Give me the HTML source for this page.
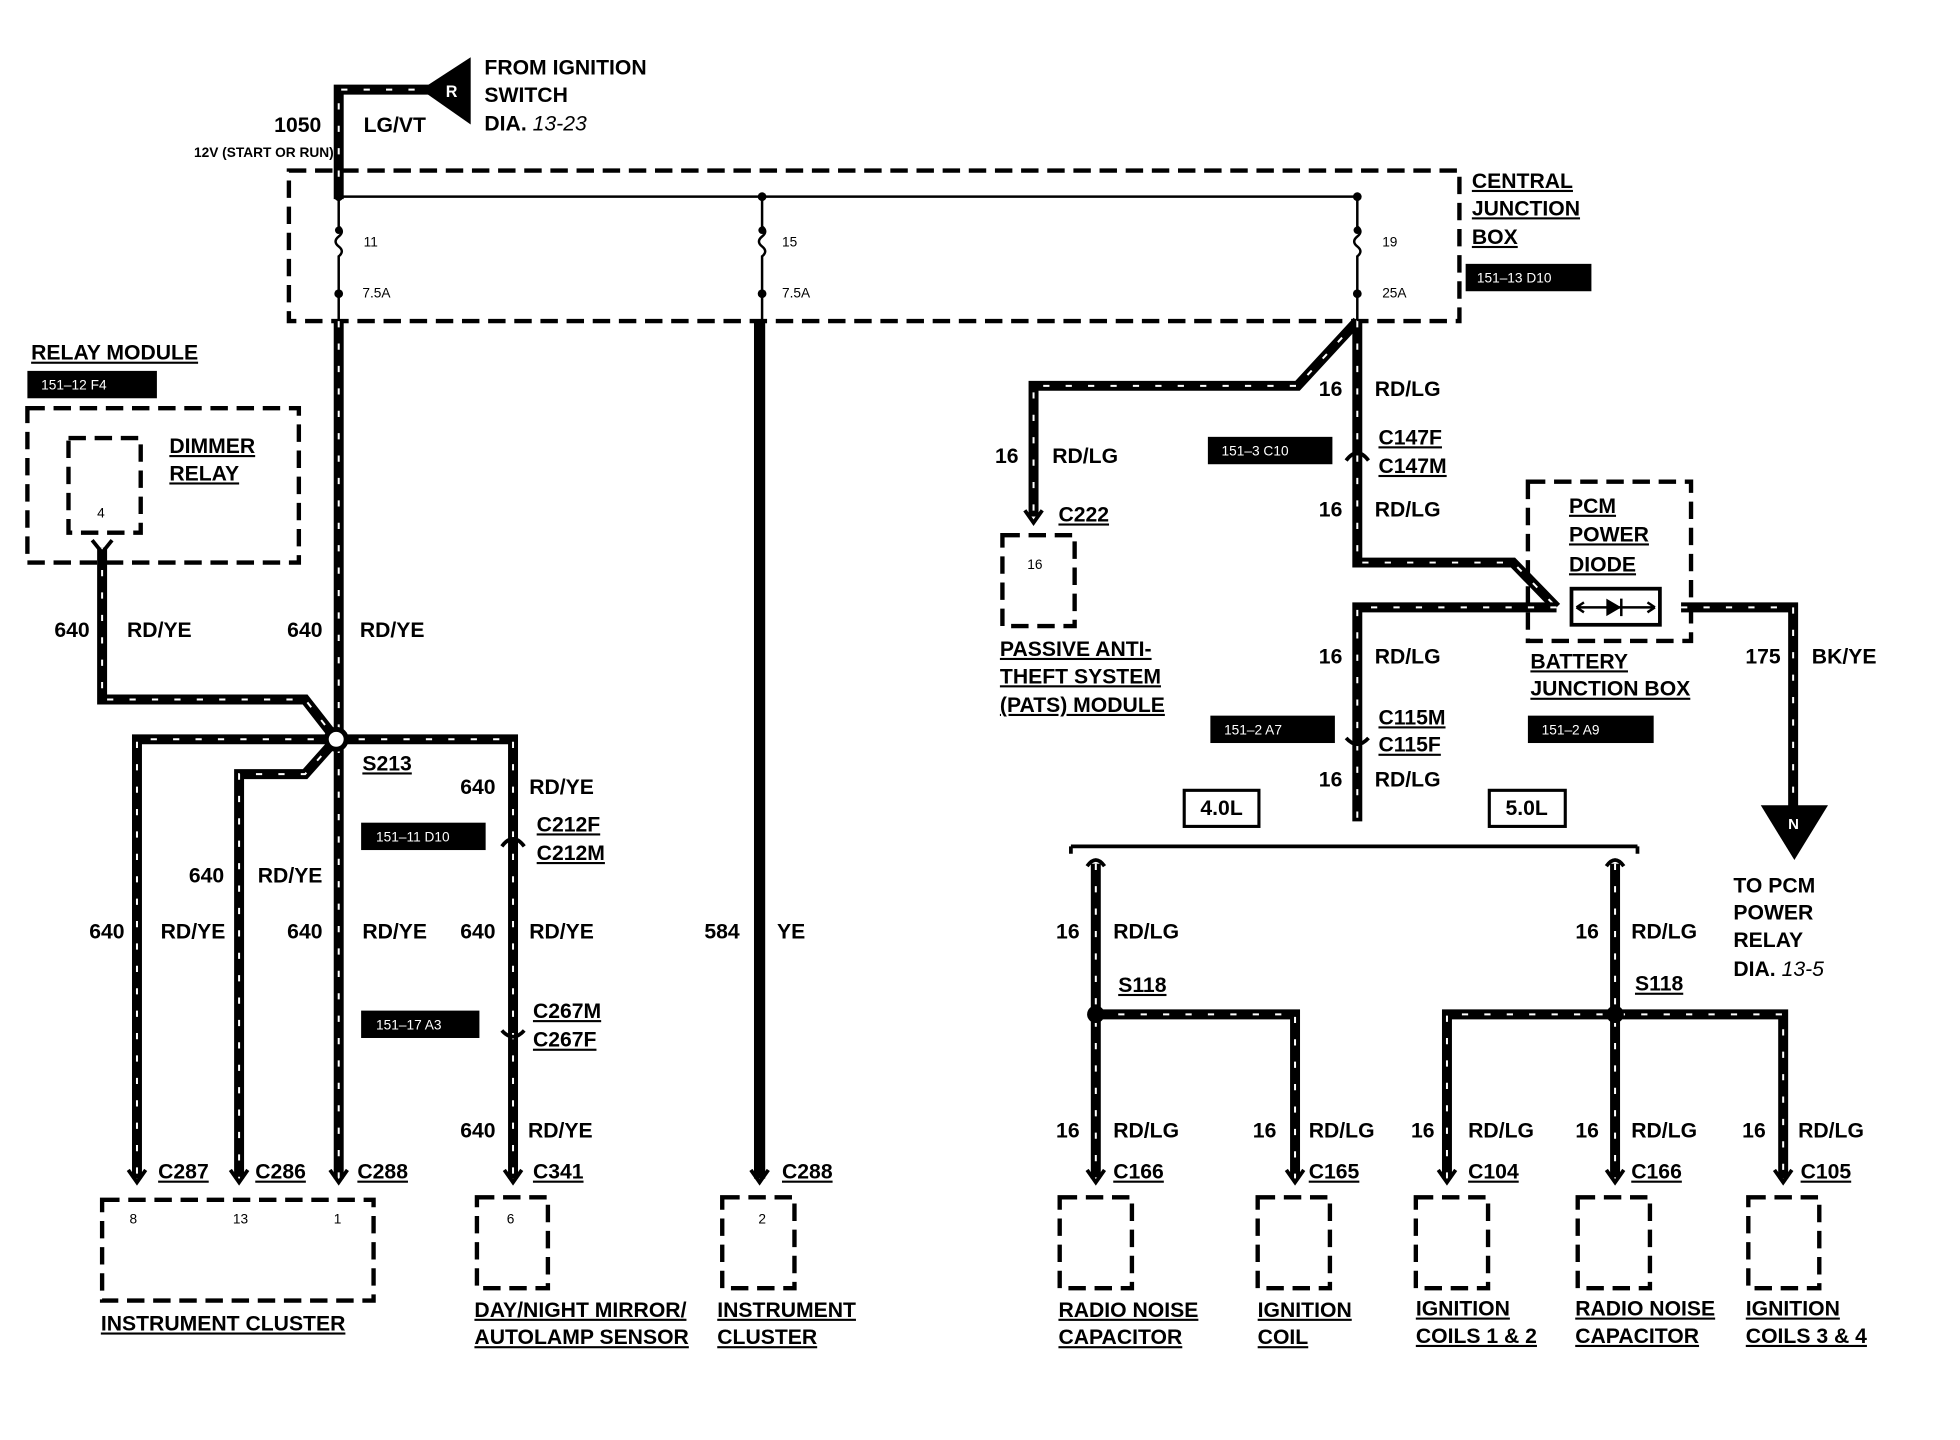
<!DOCTYPE html>
<html><head><meta charset="utf-8">
<style>
html,body{margin:0;padding:0;background:#fff;}
svg{display:block;}
text{font-family:"Liberation Sans",sans-serif;font-weight:bold;font-size:17px;fill:#000;}
.s{font-size:11px;font-weight:normal;}
.u{text-decoration:underline;}
.w{fill:none;stroke:#000;stroke-width:8;stroke-linejoin:miter;}
.wd{fill:none;stroke:#fff;stroke-width:1.6;stroke-dasharray:5 13;}
.db{fill:none;stroke:#000;stroke-width:3.5;stroke-dasharray:14 7;}
.t{fill:none;stroke:#000;stroke-width:2;}
.lbl{fill:#000;}
.lt{fill:#fff;font-size:11px;font-weight:normal;}
</style></head><body>
<svg width="1960" height="1440" viewBox="0 0 1574 1157" preserveAspectRatio="none" xmlns="http://www.w3.org/2000/svg">
<rect width="1574" height="1157" fill="#fff"/>

<!-- top feed -->
<path class="w" d="M272 160 V72 H345"/><path class="wd" d="M272 160 V72 H345"/>
<polygon points="338,72 378,46 378,100" fill="#000"/>
<text x="358" y="78" style="fill:#fff;font-size:13px">R</text>
<text x="389" y="60">FROM IGNITION</text>
<text x="389" y="82">SWITCH</text>
<text x="389" y="105">DIA. <tspan style="font-style:italic;font-weight:normal">13-23</tspan></text>
<text x="258" y="106" text-anchor="end">1050</text>
<text x="292" y="106">LG/VT</text>
<text x="268" y="126" text-anchor="end" style="font-size:11px">12V (START OR RUN)</text>

<!-- central junction box -->
<rect class="db" x="232" y="137" width="940" height="121"/>
<path class="t" d="M272 158 H1090"/>
<circle cx="272" cy="158" r="3.5"/><circle cx="612" cy="158" r="3.5"/><circle cx="1090" cy="158" r="3.5"/>
<g class="t">
<path d="M272 158 V182 q5 4 0 8 q-5 4 0 8 q5 4 0 8 V236"/>
<path d="M612 158 V182 q5 4 0 8 q-5 4 0 8 q5 4 0 8 V236"/>
<path d="M1090 158 V182 q5 4 0 8 q-5 4 0 8 q5 4 0 8 V236"/>
</g>
<circle cx="272" cy="185" r="3"/><circle cx="612" cy="185" r="3"/><circle cx="1090" cy="185" r="3"/>
<circle cx="272" cy="236" r="3.5"/><circle cx="612" cy="236" r="3.5"/><circle cx="1090" cy="236" r="3.5"/>
<path class="t" d="M272 236V258 M612 236V258 M1090 236V258"/>
<text class="s" x="292" y="198">11</text><text class="s" x="291" y="239">7.5A</text>
<text class="s" x="628" y="198">15</text><text class="s" x="628" y="239">7.5A</text>
<text class="s" x="1110" y="198">19</text><text class="s" x="1110" y="239">25A</text>
<text class="u" x="1182" y="151">CENTRAL</text>
<text class="u" x="1182" y="173">JUNCTION</text>
<text class="u" x="1182" y="196">BOX</text>
<rect class="lbl" x="1177" y="212" width="101" height="22"/><text class="lt" x="1186" y="227">151–13  D10</text>

<!-- relay module -->
<text class="u" x="25" y="289">RELAY MODULE</text>
<rect class="lbl" x="22" y="298" width="104" height="22"/><text class="lt" x="33" y="313">151–12 F4</text>
<rect class="db" x="22" y="328" width="218" height="124"/>
<rect class="db" x="55" y="352" width="58" height="76"/>
<text class="s" x="78" y="416">4</text>
<text class="u" x="136" y="364">DIMMER</text>
<text class="u" x="136" y="386">RELAY</text>

<!-- left wires -->
<g>
<path class="w" d="M272 258 V947"/><path class="wd" d="M272 258 V947"/>
<path class="w" d="M82 440 V562 H245 L270 594"/><path class="wd" d="M82 440 V562 H245 L270 594"/>
<path class="w" d="M270 594 H110 V947"/><path class="wd" d="M270 594 H110 V947"/>
<path class="w" d="M270 594 L245 622 H192 V947"/><path class="wd" d="M270 594 L245 622 H192 V947"/>
<path class="w" d="M270 594 H412 V947"/><path class="wd" d="M270 594 H412 V947"/>
<path class="w" d="M610 258 V947" style="stroke-width:9"/>
</g>
<circle cx="270" cy="594" r="8" fill="#fff" stroke="#000" stroke-width="4"/>
<path class="t" d="M74 434 L82 444 L90 434" style="stroke-width:3"/>
<text x="72" y="512" text-anchor="end">640</text><text x="102" y="512">RD/YE</text>
<text x="259" y="512" text-anchor="end">640</text><text x="289" y="512">RD/YE</text>
<text class="u" x="291" y="619">S213</text>
<text x="398" y="638" text-anchor="end">640</text><text x="425" y="638">RD/YE</text>
<rect class="lbl" x="290" y="661" width="100" height="22"/><text class="lt" x="302" y="676">151–11  D10</text>
<text class="u" x="431" y="668">C212F</text><text class="u" x="431" y="691">C212M</text>
<path d="M403 680 q9 -12 18 0" fill="none" stroke="#000" stroke-width="3"/>
<text x="180" y="709" text-anchor="end">640</text><text x="207" y="709">RD/YE</text>
<text x="100" y="754" text-anchor="end">640</text><text x="129" y="754">RD/YE</text>
<text x="259" y="754" text-anchor="end">640</text><text x="291" y="754">RD/YE</text>
<text x="398" y="754" text-anchor="end">640</text><text x="425" y="754">RD/YE</text>
<text x="594" y="754" text-anchor="end">584</text><text x="624" y="754">YE</text>
<rect class="lbl" x="290" y="812" width="95" height="22"/><text class="lt" x="302" y="827">151–17 A3</text>
<text class="u" x="428" y="818">C267M</text><text class="u" x="428" y="841">C267F</text>
<path d="M403 828 q9 10 18 0" fill="none" stroke="#000" stroke-width="3"/>
<text x="398" y="914" text-anchor="end">640</text><text x="424" y="914">RD/YE</text>
<g stroke="#000" stroke-width="3" fill="none">
<path d="M103 940 L110 950 L117 940"/><path d="M185 940 L192 950 L199 940"/><path d="M265 940 L272 950 L279 940"/><path d="M405 940 L412 950 L419 940"/><path d="M603 940 L610 950 L617 940"/>
</g>
<text class="u" x="127" y="947">C287</text><text class="u" x="205" y="947">C286</text><text class="u" x="287" y="947">C288</text>
<text class="u" x="428" y="947">C341</text><text class="u" x="628" y="947">C288</text>
<rect class="db" x="82" y="964" width="218" height="81"/>
<text class="s" x="104" y="983">8</text><text class="s" x="187" y="983">13</text><text class="s" x="268" y="983">1</text>
<text class="u" x="81" y="1069">INSTRUMENT CLUSTER</text>
<rect class="db" x="383" y="962" width="57" height="73"/><text class="s" x="407" y="983">6</text>
<text class="u" x="381" y="1058">DAY/NIGHT MIRROR/</text><text class="u" x="381" y="1080">AUTOLAMP SENSOR</text>
<rect class="db" x="580" y="962" width="58" height="73"/><text class="s" x="609" y="983">2</text>
<text class="u" x="576" y="1058">INSTRUMENT</text><text class="u" x="576" y="1080">CLUSTER</text>

<!-- right side -->
<path class="w" d="M1090 258 L1042 310 H830 V415"/><path class="wd" d="M1090 258 L1042 310 H830 V415"/>
<path class="w" d="M1090 258 V452 H1215 L1250 488"/><path class="wd" d="M1090 258 V452 H1215 L1250 488"/>
<path class="w" d="M1250 488 H1090 V660"/><path class="wd" d="M1250 488 H1090 V660"/>
<path class="w" d="M1350 488 H1440 V650"/><path class="wd" d="M1350 488 H1440 V650"/>
<polygon points="1414,647 1468,647 1441,691" fill="#000"/>
<text x="1436" y="666" style="fill:#fff;font-size:12px">N</text>
<text x="1078" y="318" text-anchor="end">16</text><text x="1104" y="318">RD/LG</text>
<text x="818" y="372" text-anchor="end">16</text><text x="845" y="372">RD/LG</text>
<rect class="lbl" x="970" y="351" width="100" height="22"/><text class="lt" x="981" y="366">151–3  C10</text>
<text class="u" x="1107" y="357">C147F</text><text class="u" x="1107" y="380">C147M</text>
<path d="M1081 370 q9 -12 18 0" fill="none" stroke="#000" stroke-width="3"/>
<text x="1078" y="415" text-anchor="end">16</text><text x="1104" y="415">RD/LG</text>
<path d="M823 410 L830 420 L837 410" stroke="#000" stroke-width="3" fill="none"/>
<text class="u" x="850" y="419">C222</text>
<rect class="db" x="805" y="430" width="58" height="73"/><text class="s" x="825" y="457">16</text>
<text class="u" x="803" y="527">PASSIVE ANTI-</text><text class="u" x="803" y="549">THEFT SYSTEM</text><text class="u" x="803" y="572">(PATS) MODULE</text>
<rect class="db" x="1227" y="387" width="131" height="128"/>
<text class="u" x="1260" y="412">PCM</text><text class="u" x="1260" y="435">POWER</text><text class="u" x="1260" y="459">DIODE</text>
<rect x="1262" y="473" width="71" height="29" fill="#fff" stroke="#000" stroke-width="3"/>
<path class="t" d="M1266 488 H1329 M1266 488 l6 -4 M1266 488 l6 4 M1329 488 l-6 -4 M1329 488 l-6 4 M1302 481 V495"/>
<polygon points="1290,481 1290,495 1302,488" fill="#000"/>
<text x="1078" y="533" text-anchor="end">16</text><text x="1104" y="533">RD/LG</text>
<text x="1430" y="533" text-anchor="end">175</text><text x="1455" y="533">BK/YE</text>
<text class="u" x="1229" y="537">BATTERY</text><text class="u" x="1229" y="559">JUNCTION BOX</text>
<rect class="lbl" x="1227" y="575" width="101" height="22"/><text class="lt" x="1238" y="590">151–2  A9</text>
<rect class="lbl" x="972" y="575" width="100" height="22"/><text class="lt" x="983" y="590">151–2  A7</text>
<text class="u" x="1107" y="582">C115M</text><text class="u" x="1107" y="604">C115F</text>
<path d="M1081 593 q9 10 18 0" fill="none" stroke="#000" stroke-width="3"/>
<text x="1078" y="632" text-anchor="end">16</text><text x="1104" y="632">RD/LG</text>
<rect x="951" y="635" width="60" height="29" fill="#fff" stroke="#000" stroke-width="2.5"/><text x="964" y="655">4.0L</text>
<rect x="1196" y="635" width="61" height="29" fill="#fff" stroke="#000" stroke-width="2.5"/><text x="1209" y="655">5.0L</text>
<path d="M860 680 H1315" stroke="#000" stroke-width="3" fill="none"/>
<path d="M860 680 V686 M1315 680 V686" stroke="#000" stroke-width="3"/>
<path d="M873 696 q7 -10 14 0 M1290 696 q7 -10 14 0" stroke="#000" stroke-width="3" fill="none"/>

<g>
<path class="w" d="M880 694 V947"/><path class="wd" d="M880 694 V947"/>
<path class="w" d="M880 815 H1040 V947"/><path class="wd" d="M880 815 H1040 V947"/>
<path class="w" d="M1297 694 V947"/><path class="wd" d="M1297 694 V947"/>
<path class="w" d="M1162 947 V815 H1432 V947"/><path class="wd" d="M1162 947 V815 H1432 V947"/>
</g>
<circle cx="880" cy="815" r="7"/><circle cx="1297" cy="815" r="7"/>
<text x="867" y="754" text-anchor="end">16</text><text x="894" y="754">RD/LG</text>
<text x="1284" y="754" text-anchor="end">16</text><text x="1310" y="754">RD/LG</text>
<text class="u" x="898" y="797">S118</text><text class="u" x="1313" y="796">S118</text>
<text x="867" y="914" text-anchor="end">16</text><text x="894" y="914">RD/LG</text>
<text x="1025" y="914" text-anchor="end">16</text><text x="1051" y="914">RD/LG</text>
<text x="1152" y="914" text-anchor="end">16</text><text x="1179" y="914">RD/LG</text>
<text x="1284" y="914" text-anchor="end">16</text><text x="1310" y="914">RD/LG</text>
<text x="1418" y="914" text-anchor="end">16</text><text x="1444" y="914">RD/LG</text>
<g stroke="#000" stroke-width="3" fill="none">
<path d="M873 940 L880 950 L887 940"/><path d="M1033 940 L1040 950 L1047 940"/><path d="M1155 940 L1162 950 L1169 940"/><path d="M1290 940 L1297 950 L1304 940"/><path d="M1425 940 L1432 950 L1439 940"/>
</g>
<text class="u" x="894" y="947">C166</text><text class="u" x="1051" y="947">C165</text><text class="u" x="1179" y="947">C104</text><text class="u" x="1310" y="947">C166</text><text class="u" x="1446" y="947">C105</text>
<rect class="db" x="851" y="962" width="58" height="73"/>
<rect class="db" x="1010" y="962" width="58" height="73"/>
<rect class="db" x="1137" y="962" width="58" height="73"/>
<rect class="db" x="1267" y="962" width="58" height="73"/>
<rect class="db" x="1404" y="962" width="57" height="73"/>
<text class="u" x="850" y="1058">RADIO NOISE</text><text class="u" x="850" y="1080">CAPACITOR</text>
<text class="u" x="1010" y="1058">IGNITION</text><text class="u" x="1010" y="1080">COIL</text>
<text class="u" x="1137" y="1057">IGNITION</text><text class="u" x="1137" y="1079">COILS 1 &amp; 2</text>
<text class="u" x="1265" y="1057">RADIO NOISE</text><text class="u" x="1265" y="1079">CAPACITOR</text>
<text class="u" x="1402" y="1057">IGNITION</text><text class="u" x="1402" y="1079">COILS 3 &amp; 4</text>
<text x="1392" y="717">TO PCM</text><text x="1392" y="739">POWER</text><text x="1392" y="761">RELAY</text>
<text x="1392" y="784">DIA. <tspan style="font-style:italic;font-weight:normal">13-5</tspan></text>
</svg>
</body></html>
